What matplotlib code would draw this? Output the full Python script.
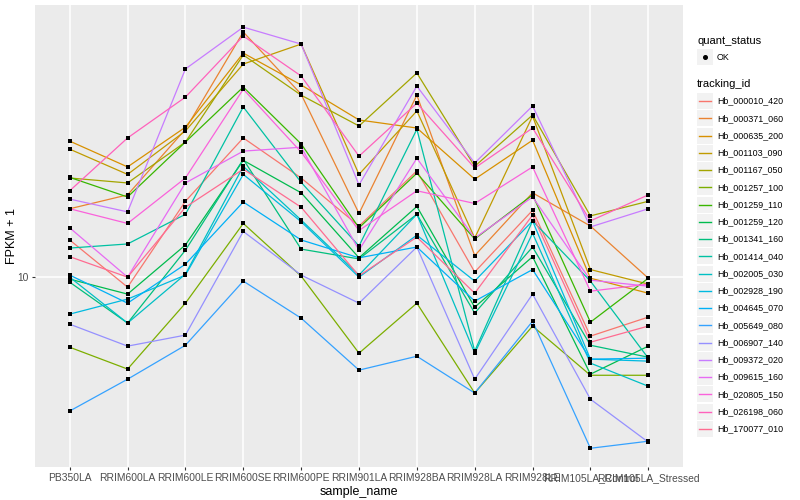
import matplotlib.pyplot as plt
from matplotlib.patches import Rectangle
from matplotlib.lines import Line2D
from matplotlib.ticker import NullLocator

plt.rcParams['font.family'] = ['Liberation Sans', 'DejaVu Sans']

samples = ["PB350LA", "RRIM600LA", "RRIM600LE", "RRIM600SE", "RRIM600PE",
           "RRIM901LA", "RRIM928BA", "RRIM928LA", "RRIM928LE",
           "RRIM105LA_Control", "RRIM105LA_Stressed"]

tracking_ids = ["Hb_000010_420", "Hb_000371_060", "Hb_000635_200", "Hb_001103_090",
                "Hb_001167_050", "Hb_001257_100", "Hb_001259_110", "Hb_001259_120",
                "Hb_001341_160", "Hb_001414_040", "Hb_002005_030", "Hb_002928_190",
                "Hb_004645_070", "Hb_005649_080", "Hb_006907_140", "Hb_009372_020",
                "Hb_009615_160", "Hb_020805_150", "Hb_026198_060", "Hb_170077_010"]

# FPKM + 1, one list per gene, in sample order
hb_000010_420 = [13.3, 9.26, 17.9, 29.1, 21.4, 14.8, 22.6, 10.4, 16.7, 6.36, 7.36]
hb_000371_060 = [16.9, 18.8, 31.1, 65.6, 40.7, 16.3, 40.4, 11.8, 19.1, 14.8, 9.92]
hb_000635_200 = [28.4, 23.3, 31.6, 55.8, 43.7, 33.4, 31.4, 21.2, 28.6, 9.92, 8.84]
hb_001103_090 = [26.7, 22.0, 30.7, 51.3, 59.8, 22.0, 35.8, 13.5, 34.4, 10.6, 9.48]
hb_001167_050 = [21.4, 20.6, 28.2, 55.0, 40.4, 31.9, 47.9, 23.4, 34.7, 16.0, 17.9]
hb_001257_100 = [5.84, 4.94, 8.19, 15.1, 10.08, 5.58, 8.19, 4.11, 6.87, 4.71, 4.71]
hb_001259_110 = [21.5, 18.5, 28.2, 43.0, 27.8, 14.6, 22.2, 13.4, 18.8, 7.08, 9.92]
hb_001259_120 = [9.85, 8.78, 12.8, 24.5, 19.1, 11.6, 17.2, 7.94, 11.7, 4.75, 5.89]
hb_001341_160 = [9.62, 7.03, 12.3, 24.7, 12.4, 11.5, 16.2, 7.59, 12.6, 5.93, 5.41]
hb_001414_040 = [12.5, 12.9, 16.2, 36.9, 20.7, 12.7, 31.1, 5.67, 15.4, 9.70, 5.37]
hb_002005_030 = [10.0, 7.03, 10.23, 23.4, 15.5, 10.16, 16.2, 5.58, 14.0, 5.17, 4.33]
hb_002928_190 = [7.53, 8.45, 10.16, 22.0, 15.3, 10.0, 13.8, 9.70, 15.4, 5.33, 5.25]
hb_004645_070 = [10.16, 8.19, 11.05, 17.8, 13.3, 11.6, 12.6, 8.32, 10.6, 5.33, 5.37]
hb_005649_080 = [3.58, 4.57, 5.93, 9.70, 7.30, 4.90, 5.45, 4.11, 7.13, 2.69, 2.84]
hb_006907_140 = [6.97, 5.89, 6.41, 14.2, 10.16, 8.19, 12.6, 4.57, 8.78, 3.92, 2.82]
hb_009372_020 = [18.2, 16.5, 49.4, 68.1, 59.8, 20.3, 43.3, 24.0, 37.2, 14.7, 16.9]
hb_009615_160 = [14.6, 10.0, 20.6, 26.3, 27.1, 12.3, 24.9, 13.5, 18.5, 9.77, 9.33]
hb_020805_150 = [16.9, 15.1, 21.4, 42.3, 26.1, 14.3, 19.4, 17.6, 23.3, 8.98, 9.48]
hb_026198_060 = [19.4, 29.1, 39.8, 63.6, 46.8, 25.3, 38.0, 23.1, 31.4, 15.4, 18.8]
hb_170077_010 = [11.7, 10.0, 17.1, 22.9, 17.1, 10.1, 13.6, 8.84, 16.1, 6.07, 6.87]

series = [hb_000010_420, hb_000371_060, hb_000635_200, hb_001103_090, hb_001167_050,
          hb_001257_100, hb_001259_110, hb_001259_120, hb_001341_160, hb_001414_040,
          hb_002005_030, hb_002928_190, hb_004645_070, hb_005649_080, hb_006907_140,
          hb_009372_020, hb_009615_160, hb_020805_150, hb_026198_060, hb_170077_010]

# ggplot hue palette, 20 levels
colors = ["#F8766D", "#EA8331", "#D89000", "#C09B00", "#A3A500", "#7CAE00", "#39B600",
          "#00BB4E", "#00BF7D", "#00C1A3", "#00BFC4", "#00BAE0", "#00B0F6", "#35A2FF",
          "#9590FF", "#C77CFF", "#E76BF3", "#FA62DB", "#FF62BC", "#FF6C91"]

W, H = 800, 500
fig = plt.figure(figsize=(8, 5), dpi=100)
ax = fig.add_axes([35 / W, 1 - 467 / H, 648 / W, 462 / H])
ax.set_facecolor("#EBEBEB")
for s in ax.spines.values():
    s.set_visible(False)

x = list(range(len(samples)))
for vals, c in zip(series, colors):
    ax.plot(x, vals, color=c, linewidth=0.9, zorder=2)
for vals in series:
    ax.scatter(x, vals, s=6, color="black", marker="s", linewidths=0, zorder=3)

ax.set_yscale("log")
ax.set_ylim(2.33, 80.7)
ax.set_xlim(-0.6, len(samples) - 0.4)
ax.set_yticks([10])
ax.set_yticklabels(["10"])
ax.yaxis.set_minor_locator(NullLocator())
ax.set_xticks(x)
ax.set_xticklabels(samples)
ax.grid(True, color="white", linewidth=1.1)
ax.set_axisbelow(True)
ax.tick_params(length=2.5, width=0.8, color="#333333", labelcolor="#4D4D4D",
               labelsize=7.4, pad=2)
ax.set_xlabel("sample_name", fontsize=9, labelpad=2)
ax.set_ylabel("FPKM + 1", fontsize=9, va="center")
ax.yaxis.set_label_coords(-23 / 648, 0.5)

# legend, drawn by hand in ggplot style
def fx(px):
    return px / W

def fy(py):
    return 1 - py / H

fig.text(fx(697), fy(41), "quant_status", fontsize=8, va="center", ha="left")
fig.patches.append(Rectangle((fx(697), fy(65)), 16 / W, 16 / H, transform=fig.transFigure,
                             facecolor="#F2F2F2", edgecolor="none"))
fig.lines.append(Line2D([fx(705)], [fy(57)], transform=fig.transFigure, marker="o",
                        markersize=2.6, color="black", linestyle="none"))
fig.text(fx(717), fy(57), "OK", fontsize=6.4, va="center", ha="left")

fig.text(fx(697), fy(84), "tracking_id", fontsize=8, va="center", ha="left")
for i, (name, c) in enumerate(zip(tracking_ids, colors)):
    yc = 101 + i * 17.26
    fig.patches.append(Rectangle((fx(697), fy(yc + 8)), 16 / W, 16 / H,
                                 transform=fig.transFigure, facecolor="#F2F2F2",
                                 edgecolor="none"))
    fig.lines.append(Line2D([fx(699), fx(711)], [fy(yc), fy(yc)], transform=fig.transFigure,
                            color=c, linewidth=1.0))
    fig.text(fx(717), fy(yc), name, fontsize=6.4, va="center", ha="left")

fig.savefig("out.png", dpi=100)
